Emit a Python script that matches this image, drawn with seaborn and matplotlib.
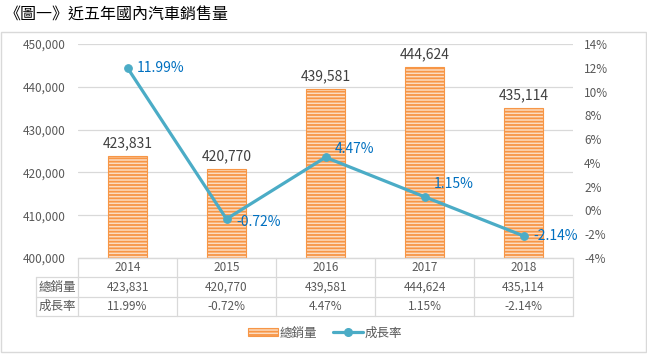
import matplotlib
matplotlib.use("Agg")
import matplotlib.pyplot as plt
import seaborn as sns
import pandas as pd
from matplotlib.patches import Patch, Rectangle
from matplotlib.lines import Line2D
from matplotlib.ticker import FuncFormatter, MultipleLocator

# data
years = ["2014", "2015", "2016", "2017", "2018"]
sales = [423831, 420770, 439581, 444624, 435114]
growth = [11.99, -0.72, 4.47, 1.15, -2.14]  # percent
row_labels = ["總銷量", "成長率"]

sns.set_style("white")
plt.rcParams["font.family"] = ["Noto Sans CJK TC", "DejaVu Sans"]
plt.rcParams["hatch.linewidth"] = 1.3

df = pd.DataFrame({"year": years, "sales": sales, "growth": growth})
df["pos"] = range(len(df))

W, H = 647, 354
fig = plt.figure(figsize=(W / 100, H / 100), dpi=100)

# pixel layout -> figure fractions
left, right, top, bottom = 78, 573, 44, 258
ax = fig.add_axes([left / W, 1 - bottom / H, (right - left) / W, (bottom - top) / H])

bar_orange = "#F79646"
bar_face = "#FCDCC2"
line_blue = "#4BACC6"
grid_gray = "#D9D9D9"
text_gray = "#595959"

sns.barplot(data=df, x="year", y="sales", ax=ax, width=0.4, color=bar_face,
            zorder=2)
for p in ax.patches:
    p.set_facecolor(bar_face)
    p.set_hatch("-----")
    p.set_edgecolor(bar_orange)
    p.set_linewidth(0.8)

ax.set_ylim(400000, 450000)
ax.yaxis.set_major_locator(MultipleLocator(10000))
ax.yaxis.set_major_formatter(FuncFormatter(lambda v, _: f"{int(v):,}"))
ax.grid(axis="y", color=grid_gray, linewidth=0.9, zorder=0)
ax.set_axisbelow(True)
ax.set_xlabel("")
ax.set_ylabel("")
ax.set_xticks([])
for s in ["top", "left", "right"]:
    ax.spines[s].set_visible(False)
ax.spines["bottom"].set_color(grid_gray)
ax.tick_params(axis="y", length=0, pad=9, labelsize=8.5, labelcolor=text_gray)

ax.bar_label(ax.containers[0], labels=[f"{v:,}" for v in sales], padding=4,
             fontsize=10, color="#404040")

# growth line on secondary axis
ax2 = ax.twinx()
sns.lineplot(data=df, x="pos", y="growth", ax=ax2, color=line_blue, linewidth=2.3,
             marker="o", markersize=5.5, markeredgecolor=line_blue, zorder=3)
ax2.set_ylim(-4, 14)
ax2.yaxis.set_major_locator(MultipleLocator(2))
ax2.yaxis.set_major_formatter(FuncFormatter(lambda v, _: f"{int(round(v))}%"))
ax2.tick_params(axis="y", length=0, pad=8, labelsize=8.5, labelcolor=text_gray)
ax2.set_xlabel("")
ax2.set_ylabel("")
for s in ax2.spines.values():
    s.set_visible(False)
ax.set_xlim(-0.5, len(years) - 0.5)

label_dy = [0, -2, 6, 9, 0]
for i, g in enumerate(growth):
    ax2.annotate(f"{g:.2f}%", (i, g), xytext=(7, label_dy[i]), textcoords="offset points",
                 ha="left", va="center", fontsize=10, color="#0070C0")

# data table under the plot
t_left, t_bottom = 36, 316
tax = fig.add_axes([t_left / W, 1 - t_bottom / H, (right - t_left) / W, (t_bottom - bottom) / H])
col_w = (right - left) / len(years)
lab_w = (left - t_left) / col_w
tax.set_xlim(-0.5 - lab_w, len(years) - 0.5)
tax.set_ylim(3, 0)
tax.axis("off")
lkw = dict(color=grid_gray, linewidth=0.9, clip_on=False)
tax.plot([-0.5, len(years) - 0.5], [0, 0], **lkw)
for yv in [1, 2, 3]:
    tax.plot([-0.5 - lab_w, len(years) - 0.5], [yv, yv], **lkw)
tax.plot([-0.5 - lab_w, -0.5 - lab_w], [1, 3], **lkw)
for k in range(len(years) + 1):
    tax.plot([k - 0.5, k - 0.5], [0, 3], **lkw)
rows = [years, [f"{v:,}" for v in sales], [f"{g:.2f}%" for g in growth]]
for r, vals in enumerate(rows):
    for i, v in enumerate(vals):
        tax.text(i, r + 0.5, v, ha="center", va="center", fontsize=8.5, color=text_gray)
for r, lab in enumerate(row_labels):
    tax.text(-0.5 - lab_w / 2, r + 1.5, lab, ha="center", va="center", fontsize=9,
             color=text_gray)

# legend
handles = [
    Patch(facecolor=bar_face, edgecolor=bar_orange, hatch="-----", linewidth=0.8),
    Line2D([], [], color=line_blue, linewidth=2.3, marker="o", markersize=5.5),
]
fig.legend(handles, row_labels, loc="center", bbox_to_anchor=(325 / W, 1 - 333 / H),
           ncol=2, frameon=False, fontsize=9, labelcolor=text_gray, handlelength=2.4,
           handleheight=0.6, columnspacing=1.2, handletextpad=0.2)

# chart border and title
fig.add_artist(Rectangle((1 / W, 2 / H), 645 / W, 320 / H, transform=fig.transFigure,
                         fill=False, edgecolor=grid_gray, linewidth=1))
fig.text(5 / W, 1 - 15 / H, "《圖一》近五年國內汽車銷售量", ha="left", va="center",
         fontsize=11.5, color="#000000")

fig.savefig("out.png", dpi=100)
